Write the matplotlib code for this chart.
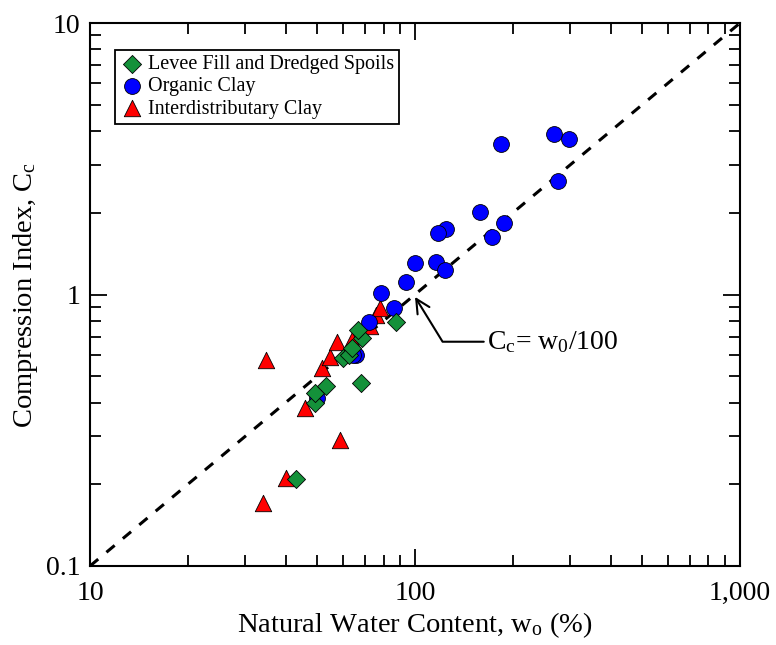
import matplotlib
matplotlib.use("Agg")
import matplotlib.pyplot as plt
from matplotlib.ticker import FixedLocator, FixedFormatter, LogLocator, NullFormatter

plt.rcParams["font.family"] = ["Liberation Serif", "DejaVu Serif"]
plt.rcParams["mathtext.fontset"] = "custom"
plt.rcParams["mathtext.rm"] = "Liberation Serif"
plt.rcParams["mathtext.it"] = "Liberation Serif:italic"

# levee fill and dredged spoils
levee_w = [43.0, 49.2, 49.2, 53.2, 60.0, 62.6, 64.0, 68.7, 66.8, 68.2, 87.5]
levee_cc = [0.209, 0.398, 0.434, 0.46, 0.583, 0.599, 0.635, 0.692, 0.74, 0.472, 0.79]

# organic clay
organic_w = [268, 297, 184, 276, 158, 188, 173, 125, 118, 116, 124, 100,
             93.5, 78.5, 86, 72, 66, 64.4, 49.8]
organic_cc = [3.90, 3.74, 3.58, 2.62, 2.01, 1.83, 1.63, 1.74, 1.69, 1.32, 1.23, 1.31,
              1.11, 1.01, 0.89, 0.79, 0.60, 0.60, 0.416]

# interdistributary clay
inter_w = [34.8, 34.0, 40.1, 58.7, 45.9, 51.8, 54.7, 57.5, 64.0, 72.7, 75.9, 78.0]
inter_cc = [0.574, 0.171, 0.211, 0.291, 0.382, 0.536, 0.589, 0.668, 0.68, 0.766, 0.84, 0.892]

line_w = [10, 1000]

fig = plt.figure(figsize=(7.76, 6.45), dpi=100)
ax = fig.add_axes([0.116, 0.1225, 0.8376, 0.8418])

ax.plot(line_w, [w / 100 for w in line_w], color="black", linestyle=(0, (3.5, 3.5)),
        linewidth=2.2, zorder=2)

ax.scatter(inter_w, inter_cc, marker="^", s=140, color="#ff0000", edgecolor="black",
           linewidth=0.6, zorder=3, label="Interdistributary Clay")
ax.scatter(organic_w, organic_cc, marker="o", s=130, color="#0000ff", edgecolor="black",
           linewidth=0.6, zorder=4, label="Organic Clay")
ax.scatter(levee_w, levee_cc, marker="D", s=85, color="#14913a", edgecolor="black",
           linewidth=0.6, zorder=5, label="Levee Fill and Dredged Spoils")

ax.set_xscale("log")
ax.set_yscale("log")
ax.set_xlim(10, 1000)
ax.set_ylim(0.1, 10)

ax.xaxis.set_major_locator(FixedLocator([10, 100, 1000]))
ax.xaxis.set_major_formatter(FixedFormatter(["10", "100", "1,000"]))
ax.yaxis.set_major_locator(FixedLocator([0.1, 1, 10]))
ax.yaxis.set_major_formatter(FixedFormatter(["0.1", "1", "10"]))
ax.xaxis.set_minor_locator(LogLocator(base=10, subs=range(2, 10)))
ax.yaxis.set_minor_locator(LogLocator(base=10, subs=range(2, 10)))
ax.xaxis.set_minor_formatter(NullFormatter())
ax.yaxis.set_minor_formatter(NullFormatter())

ax.tick_params(which="both", direction="in", top=True, right=True, labelsize=20, width=1.3)
ax.tick_params(which="major", length=12)
ax.tick_params(which="minor", length=8)
ax.tick_params(axis="y", which="major", pad=7)
ax.tick_params(axis="x", which="major", pad=11)
for s in ax.spines.values():
    s.set_linewidth(1.5)

ax.set_xlabel(r"Natural Water Content, w$_\mathrm{o}$ (%)", fontsize=20.5, labelpad=3)
ax.set_ylabel(r"Compression Index, C$_\mathrm{c}$", fontsize=20.5, labelpad=4)

ax.annotate(r"C$_\mathrm{c}$= w$_0$/100", xy=(100, 0.98), xytext=(166, 0.67),
            fontsize=20, ha="left", va="center",
            arrowprops=dict(arrowstyle="->", color="black", lw=1.5, mutation_scale=25,
                            shrinkA=0, shrinkB=0,
                            connectionstyle="angle,angleA=0,angleB=121.6,rad=0"))

handles, labels = ax.get_legend_handles_labels()
order = [2, 1, 0]
leg = ax.legend([handles[i] for i in order], [labels[i] for i in order],
                loc="upper left", bbox_to_anchor=(0.038, 0.95), borderaxespad=0,
                fontsize=14.5, fancybox=False, framealpha=1, edgecolor="black",
                handletextpad=0.2, labelspacing=0.15, borderpad=0.25, handlelength=1.2)
leg.get_frame().set_linewidth(1.3)

fig.savefig("out.png", dpi=100)
